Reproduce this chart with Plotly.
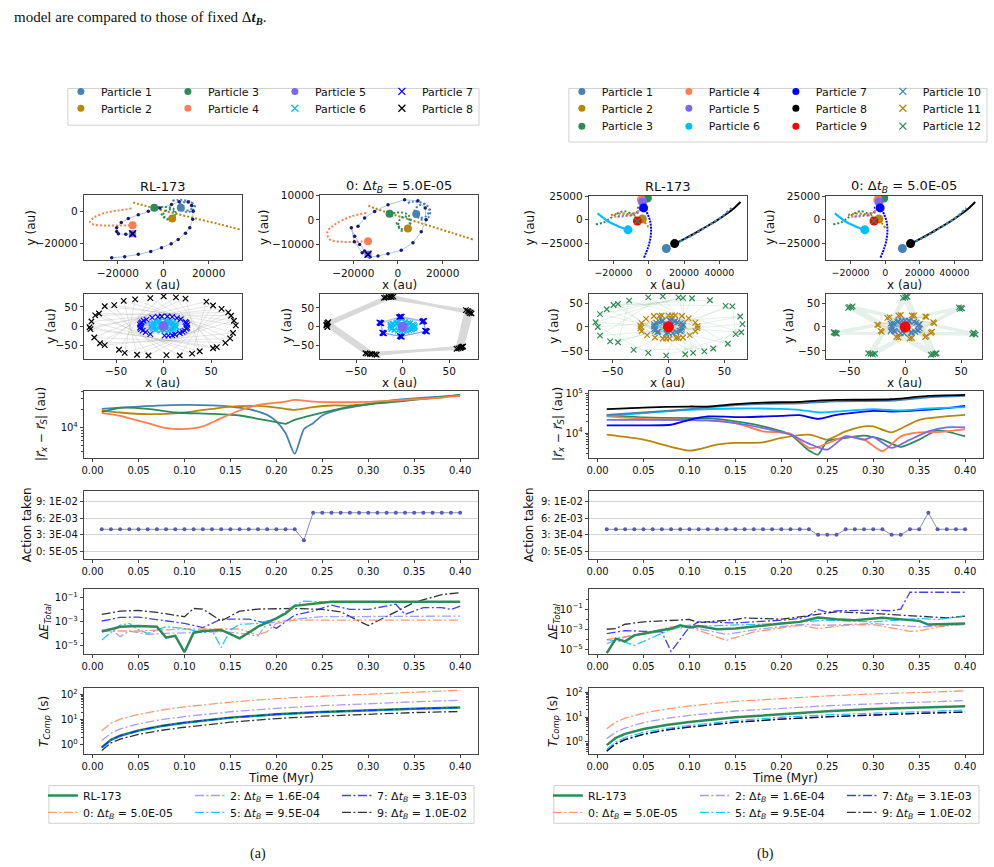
import plotly.graph_objects as go

W, H = 994, 867

# ------------------------------------------------------------------ data
T = [0.01, 0.02, 0.03, 0.04, 0.05, 0.06, 0.07, 0.08, 0.09, 0.10,
     0.11, 0.12, 0.13, 0.14, 0.15, 0.16, 0.17, 0.18, 0.19, 0.20,
     0.21, 0.22, 0.23, 0.24, 0.25, 0.26, 0.27, 0.28, 0.29, 0.30,
     0.31, 0.32, 0.33, 0.34, 0.35, 0.36, 0.37, 0.38, 0.39, 0.40]
ACT_A = [4, 4, 4, 4, 4, 4, 4, 4, 4, 4, 4, 4, 4, 4, 4, 4, 4, 4, 4, 4,
         4, 4, 2, 7, 7, 7, 7, 7, 7, 7, 7, 7, 7, 7, 7, 7, 7, 7, 7, 7]
ACT_B = [4, 4, 4, 4, 4, 4, 4, 4, 4, 4, 4, 4, 4, 4, 4, 4, 4, 4, 4, 4,
         4, 4, 4, 3, 3, 3, 4, 4, 4, 4, 4, 3, 3, 4, 4, 7, 4, 4, 4, 4]
ACT_TICKS = [0, 3, 6, 9]
ACT_LABELS = ['0: 5E-05', '3: 3E-04', '6: 2E-03', '9: 1E-02']
TIME_TICKS = [0.0, 0.05, 0.10, 0.15, 0.20, 0.25, 0.30, 0.35, 0.40]
TIME_LABELS = ['0.00', '0.05', '0.10', '0.15', '0.20', '0.25', '0.30', '0.35', '0.40']

# distance to the centre, panel (a)
DA_T1 = [0.01, 0.03, 0.05, 0.07, 0.10, 0.13, 0.15, 0.17, 0.19, 0.20, 0.21, 0.22, 0.23, 0.24, 0.25, 0.27, 0.30, 0.33, 0.36, 0.40]
DA_P1 = [20420, 21380, 22390, 23230, 23820, 23440, 22390, 20180, 16220, 12590, 8040, 3590, 9330, 11750, 15850, 20180, 24430, 28840, 31620, 34120]
DA_T2 = [0.01, 0.03, 0.06, 0.08, 0.10, 0.13, 0.15, 0.18, 0.20, 0.22, 0.24, 0.26, 0.28, 0.30, 0.34, 0.38, 0.40]
DA_P2 = [19190, 17780, 16670, 16870, 17780, 20420, 22390, 22910, 21530, 19680, 21830, 23280, 23280, 24770, 28840, 31990, 34990]
DA_T3 = [0.01, 0.03, 0.06, 0.09, 0.13, 0.16, 0.18, 0.20, 0.21, 0.22, 0.24, 0.26, 0.28, 0.32, 0.36, 0.40]
DA_P3 = [17990, 21230, 20420, 17780, 16870, 15850, 13930, 12250, 11480, 13400, 16220, 19190, 22390, 26120, 29990, 34990]
DA_T4 = [0.01, 0.03, 0.06, 0.08, 0.10, 0.12, 0.14, 0.16, 0.18, 0.21, 0.22, 0.24, 0.27, 0.30, 0.34, 0.38, 0.40]
DA_P4 = [17300, 15630, 11800, 9730, 9380, 10400, 14290, 19190, 23820, 27100, 28840, 27100, 26420, 26730, 28840, 31620, 33650]

# distance to the centre, panel (b)
DB_T8 = [0.01, 0.05, 0.10, 0.12, 0.15, 0.18, 0.22, 0.24, 0.26, 0.32, 0.34, 0.36, 0.40]
DB_P8 = [39810, 43850, 46450, 46450, 53090, 58480, 60670, 65610, 68080, 70790, 77980, 85700, 90780]
DB_T1 = [0.01, 0.05, 0.10, 0.13, 0.18, 0.22, 0.26, 0.32, 0.36, 0.40]
DB_P1 = [28710, 32890, 39810, 46450, 54080, 56230, 63100, 65610, 79430, 85700]
DB_T6 = [0.01, 0.05, 0.10, 0.15, 0.20, 0.22, 0.24, 0.26, 0.30, 0.33, 0.36, 0.40]
DB_P6 = [27100, 31620, 38280, 41400, 40550, 38280, 32890, 34830, 39810, 36900, 41400, 44670]
DB_T7 = [0.01, 0.05, 0.08, 0.10, 0.12, 0.16, 0.20, 0.22, 0.24, 0.26, 0.30, 0.32, 0.34, 0.38, 0.40]
DB_P7 = [15560, 15560, 16140, 21530, 26120, 25120, 27100, 28180, 22800, 28710, 36140, 34830, 36140, 42170, 48190]
DB_T3 = [0.01, 0.05, 0.10, 0.12, 0.15, 0.18, 0.21, 0.23, 0.24, 0.25, 0.27, 0.29, 0.31, 0.33, 0.35, 0.37, 0.40]
DB_P3 = [27670, 24660, 23710, 23710, 19590, 14690, 9080, 3610, 2870, 6190, 7500, 8570, 6810, 4470, 6810, 11670, 8260]
DB_T4 = [0.01, 0.05, 0.12, 0.15, 0.18, 0.21, 0.23, 0.24, 0.26, 0.27, 0.29, 0.31, 0.33, 0.35, 0.37, 0.40]
DB_P4 = [26120, 22800, 20750, 17780, 11010, 9620, 4220, 4470, 6810, 8260, 6810, 3480, 8260, 10400, 10590, 12590]
DB_T5 = [0.01, 0.06, 0.12, 0.15, 0.18, 0.21, 0.23, 0.25, 0.27, 0.29, 0.30, 0.32, 0.34, 0.36, 0.38, 0.40]
DB_P5 = [21530, 21530, 20750, 17780, 13340, 9080, 5410, 3830, 8260, 6810, 7940, 4220, 6810, 11010, 13870, 13870]
DB_T2 = [0.01, 0.05, 0.10, 0.13, 0.15, 0.18, 0.20, 0.23, 0.24, 0.25, 0.27, 0.29, 0.30, 0.32, 0.35, 0.40]
DB_P2 = [9080, 6810, 3610, 5110, 5620, 5850, 7500, 9080, 7940, 6810, 11010, 14690, 14690, 10400, 21530, 28710]

# energy error, panel (a)
EA_T9 = [0.01, 0.03, 0.05, 0.07, 0.10, 0.11, 0.12, 0.14, 0.16, 0.18, 0.22, 0.25, 0.27, 0.30, 0.33, 0.35, 0.38, 0.40]
EA_9 = [4.07e-3, 7.76e-3, 8.71e-3, 6.03e-3, 2.63e-3, 1.29e-2, 1.15e-2, 1.15e-3, 7.76e-3, 1.15e-2, 1.29e-2, 1.07e-2, 6.76e-3, 4.68e-4, 6.76e-3, 4.07e-2, 0.19, 0.275]
EA_T7 = [0.01, 0.03, 0.05, 0.08, 0.10, 0.12, 0.14, 0.17, 0.19, 0.20, 0.22, 0.24, 0.26, 0.28, 0.30, 0.33, 0.34, 0.36, 0.38, 0.39, 0.40]
EA_7 = [1.15e-3, 2.29e-3, 2.45e-3, 1.15e-3, 7.2e-4, 3.2e-4, 1.66e-3, 1.66e-3, 7.2e-4, 2.75e-4, 3.63e-3, 7.76e-3, 2.45e-2, 1.07e-2, 1.07e-2, 2.95e-2, 4.07e-3, 1.55e-2, 1.55e-2, 1.07e-2, 2.04e-2]
EA_T2 = [0.01, 0.02, 0.03, 0.04, 0.06, 0.08, 0.11, 0.14, 0.16, 0.18, 0.19, 0.21, 0.22, 0.25, 0.30, 0.40]
EA_2 = [2.04e-4, 2.45e-4, 5.6e-5, 1.66e-4, 8.7e-5, 1.07e-4, 1.2e-4, 1.48e-4, 1.07e-4, 6.5e-5, 7.2e-4, 1.15e-3, 1.66e-3, 2.63e-3, 2.63e-3, 2.95e-3]
EA_T0 = [0.01, 0.05, 0.10, 0.16, 0.18, 0.19, 0.20, 0.22, 0.40]
EA_0 = [1.66e-4, 1.66e-4, 2.45e-4, 2.45e-4, 7.8e-5, 1.48e-4, 7.2e-4, 1.38e-3, 1.38e-3]
EA_T5 = [0.01, 0.03, 0.04, 0.05, 0.06, 0.08, 0.10, 0.12, 0.13, 0.14, 0.15, 0.16, 0.18, 0.20, 0.22, 0.23, 0.25, 0.40]
EA_5 = [2.95e-5, 5.25e-4, 7.2e-4, 2.04e-4, 1.07e-4, 3.8e-4, 2.75e-4, 1.2e-4, 2.04e-4, 6.8e-6, 2.04e-4, 6.0e-4, 7.2e-4, 1.9e-3, 2.45e-2, 5.25e-2, 4.68e-2, 4.68e-2]
EA_TRL = [0.01, 0.03, 0.05, 0.07, 0.08, 0.09, 0.10, 0.11, 0.12, 0.14, 0.16, 0.18, 0.20, 0.21, 0.22, 0.24, 0.26, 0.40]
EA_RL = [1.48e-4, 3.8e-4, 4.37e-4, 3.8e-4, 4.68e-5, 6.5e-5, 2.75e-6, 1.2e-4, 1.66e-4, 2.04e-4, 4.07e-5, 3.8e-4, 1.9e-3, 4.9e-3, 2.14e-2, 3.39e-2, 4.68e-2, 4.68e-2]

# energy error, panel (b)
EB_T7 = [0.01, 0.03, 0.05, 0.07, 0.08, 0.10, 0.11, 0.15, 0.20, 0.22, 0.23, 0.24, 0.25, 0.26, 0.30, 0.32, 0.33, 0.34, 0.40]
EB_7 = [3.7e-4, 7.4e-4, 6.3e-4, 5.4e-4, 6.3e-6, 1.7e-3, 5.4e-3, 4.3e-3, 7.9e-3, 1.17e-2, 2.14e-2, 9.3e-2, 4.68e-2, 6.8e-2, 7.9e-2, 6.8e-2, 0.1, 4.68, 4.68]
EB_T9 = [0.01, 0.02, 0.03, 0.05, 0.07, 0.10, 0.11, 0.15, 0.16, 0.20, 0.22, 0.24, 0.26, 0.30, 0.33, 0.36, 0.38, 0.40]
EB_9 = [1.0e-3, 1.17e-3, 3.16e-3, 5.4e-3, 6.8e-3, 9.3e-3, 4.7e-3, 9.3e-3, 1.35e-2, 1.0e-2, 1.7e-2, 3.16e-2, 5.4e-2, 3.7e-2, 2.5e-2, 1.7e-2, 1.35e-2, 2.0e-2]
EB_T5 = [0.01, 0.03, 0.04, 0.06, 0.08, 0.10, 0.12, 0.20, 0.22, 0.25, 0.30, 0.35, 0.37, 0.40]
EB_5 = [9.3e-5, 5.4e-5, 2.5e-5, 1.7e-4, 1.0e-3, 2.5e-3, 2.14e-3, 3.7e-3, 5.4e-3, 7.9e-3, 5.4e-3, 1.17e-2, 9.3e-3, 2.0e-2]
EB_T2 = [0.01, 0.03, 0.06, 0.10, 0.14, 0.18, 0.22, 0.25, 0.30, 0.35, 0.40]
EB_2 = [3.7e-5, 1.7e-4, 6.3e-4, 1.7e-3, 3.16e-4, 1.17e-3, 2.95e-3, 2.5e-3, 3.7e-3, 1.7e-3, 2.95e-3]
EB_T0 = [0.01, 0.05, 0.08, 0.10, 0.14, 0.17, 0.22, 0.24, 0.27, 0.30, 0.34, 0.35, 0.37, 0.40]
EB_0 = [9.3e-5, 3.7e-4, 1.7e-3, 1.7e-3, 7.9e-5, 5.4e-4, 2.5e-3, 1.17e-3, 2.5e-3, 2.95e-3, 6.3e-4, 6.8e-4, 1.7e-3, 3.7e-3]
EB_TRL = [0.01, 0.02, 0.03, 0.04, 0.06, 0.08, 0.09, 0.10, 0.11, 0.13, 0.15, 0.18, 0.20, 0.22, 0.24, 0.26, 0.28, 0.31, 0.35, 0.36, 0.40]
EB_RL = [4.3e-6, 1.17e-4, 6.3e-5, 2.5e-4, 5.4e-4, 1.17e-3, 2.5e-3, 1.48e-3, 2.14e-3, 1.0e-3, 1.17e-3, 2.5e-3, 3.7e-3, 5.4e-3, 1.48e-2, 1.0e-2, 7.9e-3, 1.35e-2, 6.8e-3, 2.95e-3, 3.7e-3]

# computation time
TC_T = [0.01, 0.02, 0.03, 0.05, 0.075, 0.10, 0.15, 0.20, 0.25, 0.30, 0.35, 0.40]
TCA_0 = [3.6, 7.2, 10.5, 16, 24, 32, 49, 68, 84, 100, 122, 145]
TCA_2 = [1.5, 2.9, 4.3, 6.8, 10, 13.2, 20.5, 28, 35.5, 43, 50.5, 58]
TCA_RL = [0.8, 1.6, 2.3, 3.7, 5.6, 7.6, 12, 16.3, 20, 23.5, 27, 30]
TCA_5 = [0.78, 1.55, 2.25, 3.6, 5.4, 7.4, 11.6, 15.8, 19.5, 23, 26.3, 29.3]
TCA_7 = [0.8, 1.6, 2.3, 3.7, 5.6, 7.6, 12, 16.3, 20, 23.5, 27, 30]
TCA_9 = [0.6, 1.2, 1.7, 2.6, 3.8, 5, 7.9, 11, 13.8, 16.5, 19, 21]
TCB_0 = [3.4, 6.3, 9, 14.5, 21, 28, 43, 57, 71, 85, 99, 113]
TCB_2 = [1.35, 2.5, 3.6, 6, 8.8, 11.7, 17.5, 23, 28.5, 34, 40, 46]
TCB_RL = [0.74, 1.45, 2.1, 3.3, 4.8, 6.3, 9.8, 13.2, 17, 21, 24, 27]
TCB_5 = [0.5, 1.0, 1.5, 2.4, 3.5, 4.6, 7.2, 9.8, 12.3, 14.5, 17, 19]
TCB_7 = [0.43, 0.85, 1.25, 2.05, 3.05, 4.0, 6.2, 8.3, 10.3, 12.3, 14.2, 16]
TCB_9 = [0.42, 0.83, 1.22, 2.0, 3.0, 3.9, 6.1, 8.2, 10.2, 12.1, 14.0, 15.8]

# orbits (au), panel (a) RL-173
A1_P1X = [4000, 6500, 9500, 12500, 14000, 13000, 10500, 8000, 7000, 9000, 12000, 13500, 12000, 9000, 7740]
A1_P1Y = [6500, 7000, 6800, 5500, 3000, 500, -500, 1000, 3500, 5500, 5800, 3500, 1000, 600, 2080]
A1_P2X = [33680, 25000, 15000, 5000, -3000, -8000, -11000, -13940]
A1_P2Y = [-11230, -8100, -4700, -1300, 1400, 3400, 4500, 5770]
A1_P3X = [-1000, 1000, 3500, 5000, 4500, 2500, 500, 0, 1500, 4000, 5500, 4500, 2000, -1000, -3960]
A1_P3Y = [-1500, -4000, -4500, -2500, 0, 1000, -500, -3000, -5000, -4000, -1500, 1500, 2500, 2500, 2080]
A1_P4X = [-13940, -19800, -25670, -30770, -32270, -30770, -24180, -18330, -13500]
A1_P4Y = [1650, 500, -1000, -4070, -6500, -8180, -8770, -8770, -8590]
A1_INX = [-22730, -17000, -10990, -5500, -750, 3500, 6590, 9800, 11700, 13000, 13190, 12500, 10990, 7000, 3650,
          -1500, -6590, -11000, -15390, -18500, -20530, -20500, -19780, -16500, -13500]
A1_INY = [-28600, -28000, -26560, -24800, -22460, -20000, -17360, -13500, -10190, -5000, 0, 3500, 5770, 5800, 4110,
          2000, 0, -2200, -4480, -7000, -10190, -12500, -13870, -14200, -13870]
A1_ENDX = [7740, 3960, -3960, -13500, -13500]
A1_ENDY = [2080, -4480, 2080, -8590, -13870]

# orbits (au), panel (a) fixed step 0
A2_P1X = [4400, 7000, 10000, 13000, 14500, 13500, 11000, 8500, 7500, 9500, 12500, 14000, 12500, 9500, 8170]
A2_P1Y = [7000, 7500, 7300, 6000, 3500, 1000, 0, 1500, 4000, 6000, 6300, 4000, 1500, 1000, 2450]
A2_P2X = [33480, 24000, 14000, 4000, -5000, -10000, -14150]
A2_P2Y = [-8040, -5300, -2400, 500, 3100, 4700, 6245]
A2_P3X = [-800, 1200, 3700, 5200, 4700, 2700, 700, 200, 1700, 4200, 5700, 4700, 2200, -800, -3750]
A2_P3Y = [-1000, -3500, -4000, -2000, 500, 1500, 0, -2500, -4500, -3500, -1000, 2000, 3000, 3000, 2570]
A2_P4X = [-14150, -20850, -28300, -31560, -30530, -25310, -19360, -13390]
A2_P4Y = [2860, 1470, -1920, -4900, -8040, -8990, -8990, -8730]
A2_INX = [-17860, -14910, -10450, -4460, 2950, 8930, 12190, 12630, 10400, 6700, 1470, -4460, -8930, -12680,
          -14910, -17140, -19370, -20850, -19500, -16000, -13390]
A2_INY = [-2610, 820, 3510, 6250, 8290, 7880, 4900, 120, -4900, -9390, -12530, -13880, -14860, -15270,
          -12820, -10080, -6690, -3270, -9000, -13500, -14160]
A2_ENDX = [8170, 4460, -3750, -13390, -13390]
A2_ENDY = [2450, -3550, 2570, -8730, -14160]

# inner system (au), panel (a)
A3_P8X = [76, -52, -16, 68, -72, 30, 45, -77, 56, 0, -62, 73, -42, -28, 71, -68, 17, 52, -78, 52,
          13, -67, 70, -30, -41, 74, -62, 3, 61, -76, 38, 23, -73, 65, -14, -47]
A3_P8Y = [2, 55, -77, 36, 28, -72, 64, -8, -55, 78, -50, -18, 66, -75, 27, 33, -77, 54, -3, -58,
          75, -45, -32, 70, -70, 14, 52, -76, 45, 12, -66, 72, -30, -44, 73, -62]
A3_P7X = [25, -18, 5, 14, -25, 20, -6, -19, 24, -23, 9, 9, -25, 22, -12, -14, 25, -21, 1, 18,
          -24, 17, -2, -22, 23, -24, 12, 4, -24, 24]
A3_P7Y = [3, 17, -25, 21, -4, -15, 24, -16, 8, 10, -24, 24, 4, -12, 22, -21, -4, 14, -25, 18,
          -8, -18, 25, -12, 11, 7, -22, 25, -2, -7]
A3_P6X = [12, -11, 8, -5, 10, -12, 3, -8, 13, -10, 6, -3, 11, -13, 1, 9, -7, -11, 12, -4, 5, -12, 10, -9, 7, -13, 2, 13]
A3_P6Y = [2, 3, -9, 11, 7, -4, 12, -9, -3, 8, 10, -12, -6, 1, -11, 9, 10, -7, 5, 12, -12, 5, -8, -10, 11, -2, 13, 0]
A4_P8X = [-18, 70, 60, -38, -82, -15, 71, 62, -35, -81, -13, 73, 63, -33, -81,
          -12, 72, 64, -30, -80, -20, 68, 58, -40, -82, -10, 74, 65, -28, -81]
A4_P8Y = [78, 42, -58, -72, 5, 79, 40, -57, -73, 8, 80, 38, -55, -73, 10,
          79, 36, -54, -74, 12, 77, 44, -59, -71, 3, 80, 35, -53, -75, -1]
A4_P7X = [-3, 22, 25, -2, -21, -24, -2, 23, 24, -1, -20, -25, -4, 21, 26, -3, -22, -23, -1, 22, 25, -2, -21, -24]
A4_P7Y = [26, 14, -12, -26, -17, 10, 27, 15, -11, -27, -18, 11, 25, 13, -13, -25, -16, 9, 26, 15, -12, -26, -17, 10]
A4_P6X = [13, -6, -12, 9, 2, -13, 11, -9, 6, -2, 12, -11, 4, -7, 13, -13, 8, -4, 10, -12, 1, -10, 7, 12, -5, 11, -13, 3]
A4_P6Y = [1, 11, -5, -8, 12, 3, 6, -9, 10, -12, -4, 7, -11, 9, -2, -1, 9, 12, -7, -6, -12, 8, -10, 4, -11, -5, 5, 12]

# orbits (au), panel (b) (both runs look alike)
B_P1X = [9980, 14000, 20000, 27000, 34000, 41000, 47000]
B_P1Y = [-30520, -26500, -21000, -14000, -6000, 2500, 12500]
B_P2X = [-21500, -16000, -10000, -6440, -2000, 130]
B_P2Y = [4870, 6600, 4870, 1400, -3500, -8960]
B_P3X = [-30040, -25340, -20590, -17760, -14020, -9270, -6440, -2700, -780]
B_P3Y = [-4830, -2740, 3130, 6600, 9060, 6600, 8350, 13540, 22920]
B_P4X = [-19680, -14020, -8360, -5530, -4180]
B_P4Y = [3130, 4870, 6600, 10070, 21250]
B_P5X = [-17760, -12100, -7400, -4570, -3610]
B_P5Y = [3130, 4170, 5560, 11810, 18750]
B_P6X = [-29080, -26500, -23420, -20500, -17760, -14800, -11750]
B_P6Y = [6670, 3000, -1350, -4300, -6560, -8800, -10730]
B_P7X = [-2700, -500, 900, 1300, 700, -700, -2000, -4000, -6500]
B_P7Y = [-40200, -30000, -20000, -10000, -1000, 6000, 10000, 12000, 12800]
B_P8X = [14680, 20000, 26000, 32000, 38000, 44000, 48500, 52030]
B_P8Y = [-25310, -20500, -14500, -8000, -1500, 6000, 12500, 18750]
B_ENDX = [9980, -3610, -780, -4180, -3610, -11750, -2910, 14680, -6440]
B_ENDY = [-30520, 730, 22920, 21250, 18750, -10730, 12500, -25310, -1350]

# inner system (au), panel (b)
B3_P12X = [-18, 53, -61, 13, 15, -45, 51, -31, 40, 66, -61, -5, 32, -55, 21, -2, 60, 57, -45, -35,
           65, -65, 9, 22, -49, 37, -18, -63, 64, -52]
B3_P12Y = [62, -35, 27, 61, -57, 48, 44, -48, -45, 6, -18, 64, -51, 37, 60, -60, -15, 43, -32, 55,
           -11, 10, 62, -54, 46, 56, -54, 0, 22, -30]
B3_P11X = [-25, 13, -6, 24, -19, 1, 26, -13, -24, 19, 0, -20, 24, 7, -25, -8, 12, -5, 18, -24, 26, 6, -12, 9, 3, -2]
B3_P11Y = [2, -22, 24, 9, -17, -24, 2, 23, -9, -17, 24, 17, -9, -23, -3, 23, 23, -24, 18, 8, -3, 24, -22, -23, 24, -24]
B3_P10X = [13, -12, 7, -6, 11, -13, 2, -9, 12, -11, 5, -2, 10, -13, 0, 8, -8, -12, 13, -5, 4, -13, 11, -10, 6, -12, 1, 12]
B3_P10Y = [3, 4, -11, 12, 8, -5, 13, -10, -6, 9, 11, -13, -8, 1, -12, 10, 11, -8, 6, 13, -13, 6, -9, -11, 12, -3, 14, -1]
B4_P12X = [0, 25, -50, 62, -63, 50, -31, 2, 27, -48, 61, -62, 48, -29,
           -2, 23, -51, 63, -64, 51, -33, 1, 28, -47, 60, -61, 49, -27]
B4_P12Y = [62, -57, 42, -14, -12, 40, -56, 63, -56, 41, -12, -13, 41, -57,
           61, -58, 40, -16, -11, 39, -55, 64, -55, 43, -15, -14, 38, -56]
B4_P11X = [-16, 25, -8, -6, 24, -21, 6, 18, -24, 18, 6, -14, 26, -6, -4, 23, -22, 8, 19, -25, 19, 4]
B4_P11Y = [19, 10, -21, 24, -10, -10, 24, -21, 4, 22, -23, 20, 8, -22, 25, -12, -8, 24, -19, 5, 21, -24]
B4_P10X = [12, -10, 6, -7, 13, -12, 3, -10, 11, -13, 4, -4, 9, -12, -1, 10, -6, -13, 12, -3, 5, -11, 12, -9, 8, -12, 0, 13]
B4_P10Y = [5, 6, -12, 11, 6, -6, 13, -8, -7, 7, 12, -13, -10, 3, -13, 9, 12, -9, 4, 13, -12, 8, -7, -10, 11, -1, 13, -3]

# ------------------------------------------------------------------ styles
C = {1: '#4682b4', 2: '#b8860b', 3: '#2e8b57', 4: '#ff7f50', 5: '#7b68ee',
     6: '#00bfff', 7: '#0000ff', 8: '#000000', 9: '#ff0000'}
DD = '9px,2.5px,2px,2.5px'
RUN = {'RL': ('#2e8b57', 2.5, 'solid'),
       '0': ('rgba(255,127,80,0.8)', 1.3, DD),
       '2': ('rgba(123,104,238,0.65)', 1.3, DD),
       '5': ('rgba(0,191,255,0.85)', 1.3, DD),
       '7': ('rgba(0,0,255,0.75)', 1.3, DD),
       '9': ('rgba(0,0,0,0.8)', 1.3, DD)}
RUN_NAMES = {'RL': 'RL-173',
             '0': '0: Δ<i>t</i><sub><i>B</i></sub> = 5.0E-05',
             '2': '2: Δ<i>t</i><sub><i>B</i></sub> = 1.6E-04',
             '5': '5: Δ<i>t</i><sub><i>B</i></sub> = 9.5E-04',
             '7': '7: Δ<i>t</i><sub><i>B</i></sub> = 3.1E-03',
             '9': '9: Δ<i>t</i><sub><i>B</i></sub> = 1.0E-02'}
FONT = 'DejaVu Sans'

# panel boxes in pixels: (left, right, top, bottom)
BOX = {1: (82, 240, 190, 256), 2: (319, 477, 190, 256), 3: (82, 240, 290, 355), 4: (319, 477, 290, 355),
       5: (82, 477, 388, 455), 6: (82, 477, 488, 557), 7: (82, 477, 587, 653), 8: (82, 477, 687, 753),
       9: (588, 747, 191, 256), 10: (826, 982, 191, 256), 11: (588, 747, 290, 355), 12: (826, 982, 290, 355),
       13: (588, 983, 388, 455), 14: (588, 983, 488, 557), 15: (588, 983, 587, 653), 16: (588, 983, 687, 753)}

fig = go.Figure()
layout = {}


def axn(i):
    return ('x' if i == 1 else f'x{i}', 'y' if i == 1 else f'y{i}')


def set_axes(i, xr, yr, xt, xl, yt, yl, ytype='linear', tf=10, xtf=None, ygrid=False, yminor=None):
    l, r, t, b = BOX[i]
    xa, ya = axn(i)
    common = dict(showline=True, linecolor='#444', linewidth=1, mirror=True, ticks='outside',
                  ticklen=3, tickwidth=0.8, tickcolor='#444', showgrid=False, zeroline=False,
                  tickangle=0, tickfont=dict(size=tf, color='#111', family=FONT))
    xd = dict(common, domain=[l / W, r / W], range=xr, anchor=ya, tickmode='array',
              tickvals=xt, ticktext=xl)
    if xtf:
        xd['tickfont'] = dict(size=xtf, color='#111', family=FONT)
    yd = dict(common, domain=[1 - b / H, 1 - t / H], range=yr, anchor=xa, type=ytype,
              tickmode='array', tickvals=yt, ticktext=yl)
    if ygrid:
        yd.update(showgrid=True, gridcolor='#d4d4d4', gridwidth=1)
    if yminor:
        yd['minor'] = dict(tickmode='array', tickvals=yminor, ticks='outside', ticklen=2,
                           tickcolor='#444', tickwidth=0.6)
    layout['xaxis' if i == 1 else f'xaxis{i}'] = xd
    layout['yaxis' if i == 1 else f'yaxis{i}'] = yd


def add(i, x, y, mode='lines', color='black', width=1.5, dash='solid', shape='linear',
        msym='circle', msize=6, mcolor=None, mline=0, name=None, legend=None, showlegend=False,
        smoothing=None):
    xa, ya = axn(i)
    ln = dict(color=color, width=width, dash=dash, shape=shape)
    if smoothing is not None:
        ln['smoothing'] = smoothing
    mk = dict(symbol=msym, size=msize, color=mcolor or color,
              line=dict(width=mline, color=mcolor or color))
    kw = dict(x=x, y=y, xaxis=xa, yaxis=ya, mode=mode, line=ln, marker=mk,
              showlegend=showlegend, hoverinfo='skip')
    if name is not None:
        kw['name'] = name
    if legend is not None:
        kw['legend'] = legend
    fig.add_trace(go.Scatter(**kw))


def trail(i, x, y, c, w=2.0):
    add(i, x, y, color=c, width=w, dash='2px,2px', shape='spline')


def xs(i, x, y, c, lc, lw=1.0, ms=5.5):
    add(i, x, y, mode='lines+markers', color=lc, width=lw, msym='x-thin', msize=ms, mcolor=c, mline=1.2)


# ----------------------------------------------------------------- (a) orbits
for i, P1X, P1Y, P2X, P2Y, P3X, P3Y, P4X, P4Y, INX, INY, EX, EY in [
        (1, A1_P1X, A1_P1Y, A1_P2X, A1_P2Y, A1_P3X, A1_P3Y, A1_P4X, A1_P4Y, A1_INX, A1_INY, A1_ENDX, A1_ENDY),
        (2, A2_P1X, A2_P1Y, A2_P2X, A2_P2Y, A2_P3X, A2_P3Y, A2_P4X, A2_P4Y, A2_INX, A2_INY, A2_ENDX, A2_ENDY)]:
    trail(i, P4X, P4Y, C[4])
    trail(i, P2X, P2Y, C[2])
    trail(i, P3X, P3Y, C[3])
    trail(i, P1X, P1Y, C[1])
    add(i, INX, INY, mode='lines+markers', color='rgba(100,149,237,0.55)', width=1,
        msize=3.5, mcolor='#191970')
    for k in range(4):
        add(i, [EX[k]], [EY[k]], mode='markers', msize=8, mcolor=C[k + 1])
    add(i, [EX[4]], [EY[4]], mode='markers', msym='square', msize=7, mcolor=C[5])
    add(i, [EX[4]], [EY[4]], mode='markers', msym='x-thin', msize=7, mcolor=C[7], mline=1.4)
    add(i, [EX[4]], [EY[4]], mode='markers', msym='x-thin', msize=5, mcolor=C[8], mline=1.2)

set_axes(1, [-35000, 34500], [-30200, 10200], [-20000, 0, 20000], ['−20000', '0', '20000'],
         [-20000, 0], ['−20000', '0'], tf=10.5)
set_axes(2, [-34700, 35800], [-16600, 10400], [-20000, 0, 20000], ['−20000', '0', '20000'],
         [-10000, 0, 10000], ['−10000', '0', '10000'], tf=10.5)

# inner (a)
xs(3, A3_P8X, A3_P8Y, C[8], 'rgba(150,150,150,0.25)', lw=1)
xs(3, A3_P7X, A3_P7Y, C[7], 'rgba(0,0,255,0.12)', lw=1)
xs(3, A3_P6X, A3_P6Y, C[6], 'rgba(0,191,255,0.3)', lw=1)
add(3, [0], [0], mode='markers', msize=10, mcolor=C[5])
xs(4, A4_P8X, A4_P8Y, C[8], 'rgba(160,160,160,0.4)', lw=2.5)
xs(4, A4_P7X, A4_P7Y, C[7], 'rgba(0,0,255,0.15)', lw=1)
xs(4, A4_P6X, A4_P6Y, C[6], 'rgba(0,191,255,0.3)', lw=1)
add(4, [0], [0], mode='markers', msize=10, mcolor=C[5])
set_axes(3, [-84, 82], [-85, 84], [-50, 0, 50], ['−50', '0', '50'], [-50, 0, 50], ['−50', '0', '50'], tf=10.5)
set_axes(4, [-88.5, 81], [-85, 87], [-50, 0, 50], ['−50', '0', '50'], [-50, 0, 50], ['−50', '0', '50'], tf=10.5)

# ----------------------------------------------------------------- (b) orbits
for i in (9, 10):
    trail(i, B_P3X, B_P3Y, C[3])
    trail(i, B_P4X, B_P4Y, C[4])
    trail(i, B_P5X, B_P5Y, C[5])
    trail(i, B_P2X, B_P2Y, C[2])
    add(i, B_P6X, B_P6Y, color=C[6], width=2.2, shape='spline')
    add(i, B_P7X, B_P7Y, color=C[7], width=2.0, dash='2px,1px', shape='spline')
    add(i, B_P8X, B_P8Y, color=C[8], width=2.0, shape='spline')
    add(i, B_P1X, B_P1Y, color=C[1], width=2.0, dash='3px,2px', shape='spline')
    for k in range(9):
        add(i, [B_ENDX[k]], [B_ENDY[k]], mode='markers', msize=9, mcolor=C[k + 1])
    add(i, [B_ENDX[8]], [B_ENDY[8]], mode='markers', msym='x-thin', msize=6, mcolor=C[3], mline=1.2)
    set_axes(i, [-34000, 56000], [-43000, 25500], [-20000, 0, 20000, 40000],
             ['−20000', '0', '20000', '40000'], [-25000, 0, 25000], ['−25000', '0', '25000'],
             tf=10.5, xtf=9.5)

xs(11, B3_P12X, B3_P12Y, C[3], 'rgba(46,139,87,0.13)', lw=1)
xs(11, B3_P11X, B3_P11Y, C[2], 'rgba(184,134,11,0.15)', lw=1)
xs(11, B3_P10X, B3_P10Y, C[1], 'rgba(70,130,180,0.25)', lw=1)
add(11, [0], [0], mode='markers', msize=11, mcolor=C[9])
xs(12, B4_P12X, B4_P12Y, C[3], 'rgba(46,139,87,0.13)', lw=2)
xs(12, B4_P11X, B4_P11Y, C[2], 'rgba(184,134,11,0.15)', lw=1)
xs(12, B4_P10X, B4_P10Y, C[1], 'rgba(70,130,180,0.25)', lw=1)
add(12, [0], [0], mode='markers', msize=11, mcolor=C[9])
set_axes(11, [-71, 70.5], [-66, 69], [-50, 0, 50], ['−50', '0', '50'], [-50, 0, 50], ['−50', '0', '50'], tf=10.5)
set_axes(12, [-70.5, 68.7], [-66, 69], [-50, 0, 50], ['−50', '0', '50'], [-50, 0, 50], ['−50', '0', '50'], tf=10.5)

# ----------------------------------------------------------------- distances
for tt, vv, k in [(DA_T1, DA_P1, 1), (DA_T2, DA_P2, 2), (DA_T3, DA_P3, 3), (DA_T4, DA_P4, 4)]:
    add(5, tt, vv, color=C[k], width=1.8, shape='spline', smoothing=0.6)
for tt, vv, k in [(DB_T2, DB_P2, 2), (DB_T3, DB_P3, 3), (DB_T4, DB_P4, 4), (DB_T5, DB_P5, 5),
                  (DB_T7, DB_P7, 7), (DB_T6, DB_P6, 6), (DB_T1, DB_P1, 1), (DB_T8, DB_P8, 8)]:
    add(13, tt, vv, color=C[k], width=1.8, shape='spline', smoothing=0.6)
XR = [-0.0095, 0.4195]
set_axes(5, XR, [3.49, 4.605], TIME_TICKS, TIME_LABELS, [1e4], ['10<sup>4</sup>'], ytype='log',
         yminor=[4000, 5000, 6000, 7000, 8000, 9000, 20000, 30000, 40000])
set_axes(13, XR, [3.375, 5.05], TIME_TICKS, TIME_LABELS, [1e4, 1e5], ['10<sup>4</sup>', '10<sup>5</sup>'],
         ytype='log', yminor=[3000, 4000, 5000, 6000, 7000, 8000, 9000, 20000, 30000, 40000, 50000,
                              60000, 70000, 80000, 90000])

# ----------------------------------------------------------------- actions
for i, act in ((6, ACT_A), (14, ACT_B)):
    add(i, T, act, mode='lines+markers', color='rgba(90,90,180,0.7)', width=1, msize=4, mcolor='#5a5ab4')
    set_axes(i, XR, [-1.4, 11], TIME_TICKS, TIME_LABELS, ACT_TICKS, ACT_LABELS, ygrid=True)

# ----------------------------------------------------------------- energy
for i, sets in ((7, [('9', EA_T9, EA_9), ('7', EA_T7, EA_7), ('2', EA_T2, EA_2), ('0', EA_T0, EA_0),
                     ('5', EA_T5, EA_5), ('RL', EA_TRL, EA_RL)]),
                (15, [('9', EB_T9, EB_9), ('7', EB_T7, EB_7), ('2', EB_T2, EB_2), ('0', EB_T0, EB_0),
                      ('5', EB_T5, EB_5), ('RL', EB_TRL, EB_RL)])):
    for key, tt, vv in sets:
        col, w, d = RUN[key]
        add(i, tt, vv, color=col, width=w, dash=d)
EXPT = ['10<sup>−5</sup>', '10<sup>−3</sup>', '10<sup>−1</sup>']
set_axes(7, XR, [-5.75, -0.25], TIME_TICKS, TIME_LABELS, [1e-5, 1e-3, 1e-1], EXPT, ytype='log',
         yminor=[1e-4, 1e-2])
set_axes(15, XR, [-5.5, 1.0], TIME_TICKS, TIME_LABELS, [1e-5, 1e-3, 1e-1], EXPT, ytype='log',
         yminor=[1e-4, 1e-2, 1])

# ----------------------------------------------------------------- computation time (with legends)
for i, sets, lg1, lg2 in ((8, [('RL', TCA_RL), ('0', TCA_0), ('2', TCA_2), ('5', TCA_5), ('7', TCA_7),
                               ('9', TCA_9)], 'legend6', 'legend7'),
                          (16, [('RL', TCB_RL), ('0', TCB_0), ('2', TCB_2), ('5', TCB_5), ('7', TCB_7),
                                ('9', TCB_9)], 'legend8', 'legend9')):
    for key, vv in sets:
        col, w, d = RUN[key]
        lg = lg1 if key in ('RL', '2', '7') else lg2
        add(i, TC_T, vv, color=col, width=w, dash=d, name=RUN_NAMES[key], legend=lg, showlegend=True)
TEXP = ['10<sup>0</sup>', '10<sup>1</sup>', '10<sup>2</sup>']
set_axes(8, XR, [-0.35, 2.24], TIME_TICKS, TIME_LABELS, [1, 10, 100], TEXP, ytype='log',
         yminor=[2, 3, 4, 5, 6, 7, 8, 9, 20, 30, 40, 50, 60, 70, 80, 90])
set_axes(16, XR, [-0.48, 2.16], TIME_TICKS, TIME_LABELS, [1, 10, 100], TEXP, ytype='log',
         yminor=[0.4, 0.5, 0.6, 0.7, 0.8, 0.9, 2, 3, 4, 5, 6, 7, 8, 9, 20, 30, 40, 50, 60, 70, 80, 90])

# ----------------------------------------------------------------- particle legends (legend entries only)
def leg_entry(k, legend, sym='circle', color=None):
    c = color or C[k]
    if sym == 'x':
        mk = dict(symbol='x-thin', size=7, color=c, line=dict(width=1.3, color=c))
    else:
        mk = dict(symbol='circle', size=7, color=c)
    fig.add_trace(go.Scatter(x=[None], y=[None], mode='markers', marker=mk, name=f'Particle {k}',
                             legend=legend, showlegend=True, hoverinfo='skip'))

for k, lg in [(1, 'legend'), (3, 'legend'), (5, 'legend'), (7, 'legend'),
              (2, 'legend2'), (4, 'legend2'), (6, 'legend2'), (8, 'legend2')]:
    leg_entry(k, lg, sym='x' if k >= 6 else 'circle')
for k, lg in [(1, 'legend3'), (4, 'legend3'), (7, 'legend3'), (10, 'legend3'),
              (2, 'legend4'), (5, 'legend4'), (8, 'legend4'), (11, 'legend4'),
              (3, 'legend5'), (6, 'legend5'), (9, 'legend5'), (12, 'legend5')]:
    if k >= 10:
        leg_entry(k, lg, sym='x', color=C[k - 9])
    else:
        leg_entry(k, lg)


def legend_cfg(xpx, ycpx, ew, size=11):
    return dict(x=xpx / W, y=1 - ycpx / H, xanchor='left', yanchor='middle', orientation='h',
                entrywidth=ew, entrywidthmode='pixels', bgcolor='rgba(0,0,0,0)', borderwidth=0,
                font=dict(size=size, family=FONT, color='#111'), tracegroupgap=0,
                itemclick=False, itemdoubleclick=False)

layout['legend'] = legend_cfg(59, 86, 62)
layout['legend2'] = legend_cfg(59, 103, 62)
layout['legend3'] = legend_cfg(561, 86, 62)
layout['legend4'] = legend_cfg(561, 103, 62)
layout['legend5'] = legend_cfg(561, 121, 62)
layout['legend6'] = legend_cfg(41, 795, 102)
layout['legend7'] = legend_cfg(41, 812, 102)
layout['legend8'] = legend_cfg(547, 795, 102)
layout['legend9'] = legend_cfg(547, 812, 102)

shapes = []
for (l, r, t, b) in [(66, 478, 83, 120), (568, 987, 83, 137), (47, 473, 785, 823), (553, 979, 785, 823)]:
    shapes.append(dict(type='rect', xref='paper', yref='paper', x0=l / W, x1=r / W, y0=1 - b / H, y1=1 - t / H,
                       line=dict(color='#d0d0d0', width=1), fillcolor='rgba(0,0,0,0)'))

# ----------------------------------------------------------------- text
ann = []


def txt(s, x, y, size=12, angle=0, xanchor='center', family=FONT):
    ann.append(dict(text=s, x=x / W, y=1 - y / H, xref='paper', yref='paper', showarrow=False,
                    xanchor=xanchor, yanchor='middle', textangle=angle,
                    font=dict(size=size, family=family, color='#111')))

T0 = '0: Δ<i>t</i><sub><i>B</i></sub> = 5.0E-05'
for x, s in [(161, 'RL-173'), (398, T0), (667, 'RL-173'), (904, T0)]:
    txt(s, x, 182, size=13)
for x in (161, 398, 667, 904):
    txt('x (au)', x, 281)
    txt('x (au)', x, 380)
for x in (30, 263, 530, 770):
    txt('y (au)', x, 223, angle=-90)
for x in (49, 285, 553, 788):
    txt('y (au)', x, 322, angle=-90)
DIST = '|<i>r⃗</i><sub><i>x</i></sub> − <i>r⃗</i><sub><i>S</i></sub>| (au)'
txt(DIST, 40, 421, angle=-90)
txt(DIST, 558, 421, angle=-90)
txt('Action taken', 25, 522, angle=-90)
txt('Action taken', 528, 522, angle=-90)
txt('Δ<i>E</i><sub><i>Total</i></sub>', 43, 620, angle=-90)
txt('Δ<i>E</i><sub><i>Total</i></sub>', 553, 620, angle=-90)
txt('<i>T</i><sub><i>Comp</i></sub> (s)', 43, 720, angle=-90)
txt('<i>T</i><sub><i>Comp</i></sub> (s)', 553, 720, angle=-90)
txt('Time (Myr)', 280, 777)
txt('Time (Myr)', 785, 777)
txt('(a)', 257, 854, size=14, family='Liberation Serif')
txt('(b)', 765, 854, size=14, family='Liberation Serif')
txt('model are compared to those of fixed Δ<b><i>t</i></b><sub><b><i>B</i></b></sub>.', 10, 12, size=15,
    xanchor='left', family='Liberation Serif')

layout.update(width=W, height=H, margin=dict(l=0, r=0, t=0, b=0), paper_bgcolor='white',
              plot_bgcolor='white', font=dict(family=FONT, color='#111'), shapes=shapes,
              annotations=ann)
fig.update_layout(**layout)
fig.write_html('out.html')
